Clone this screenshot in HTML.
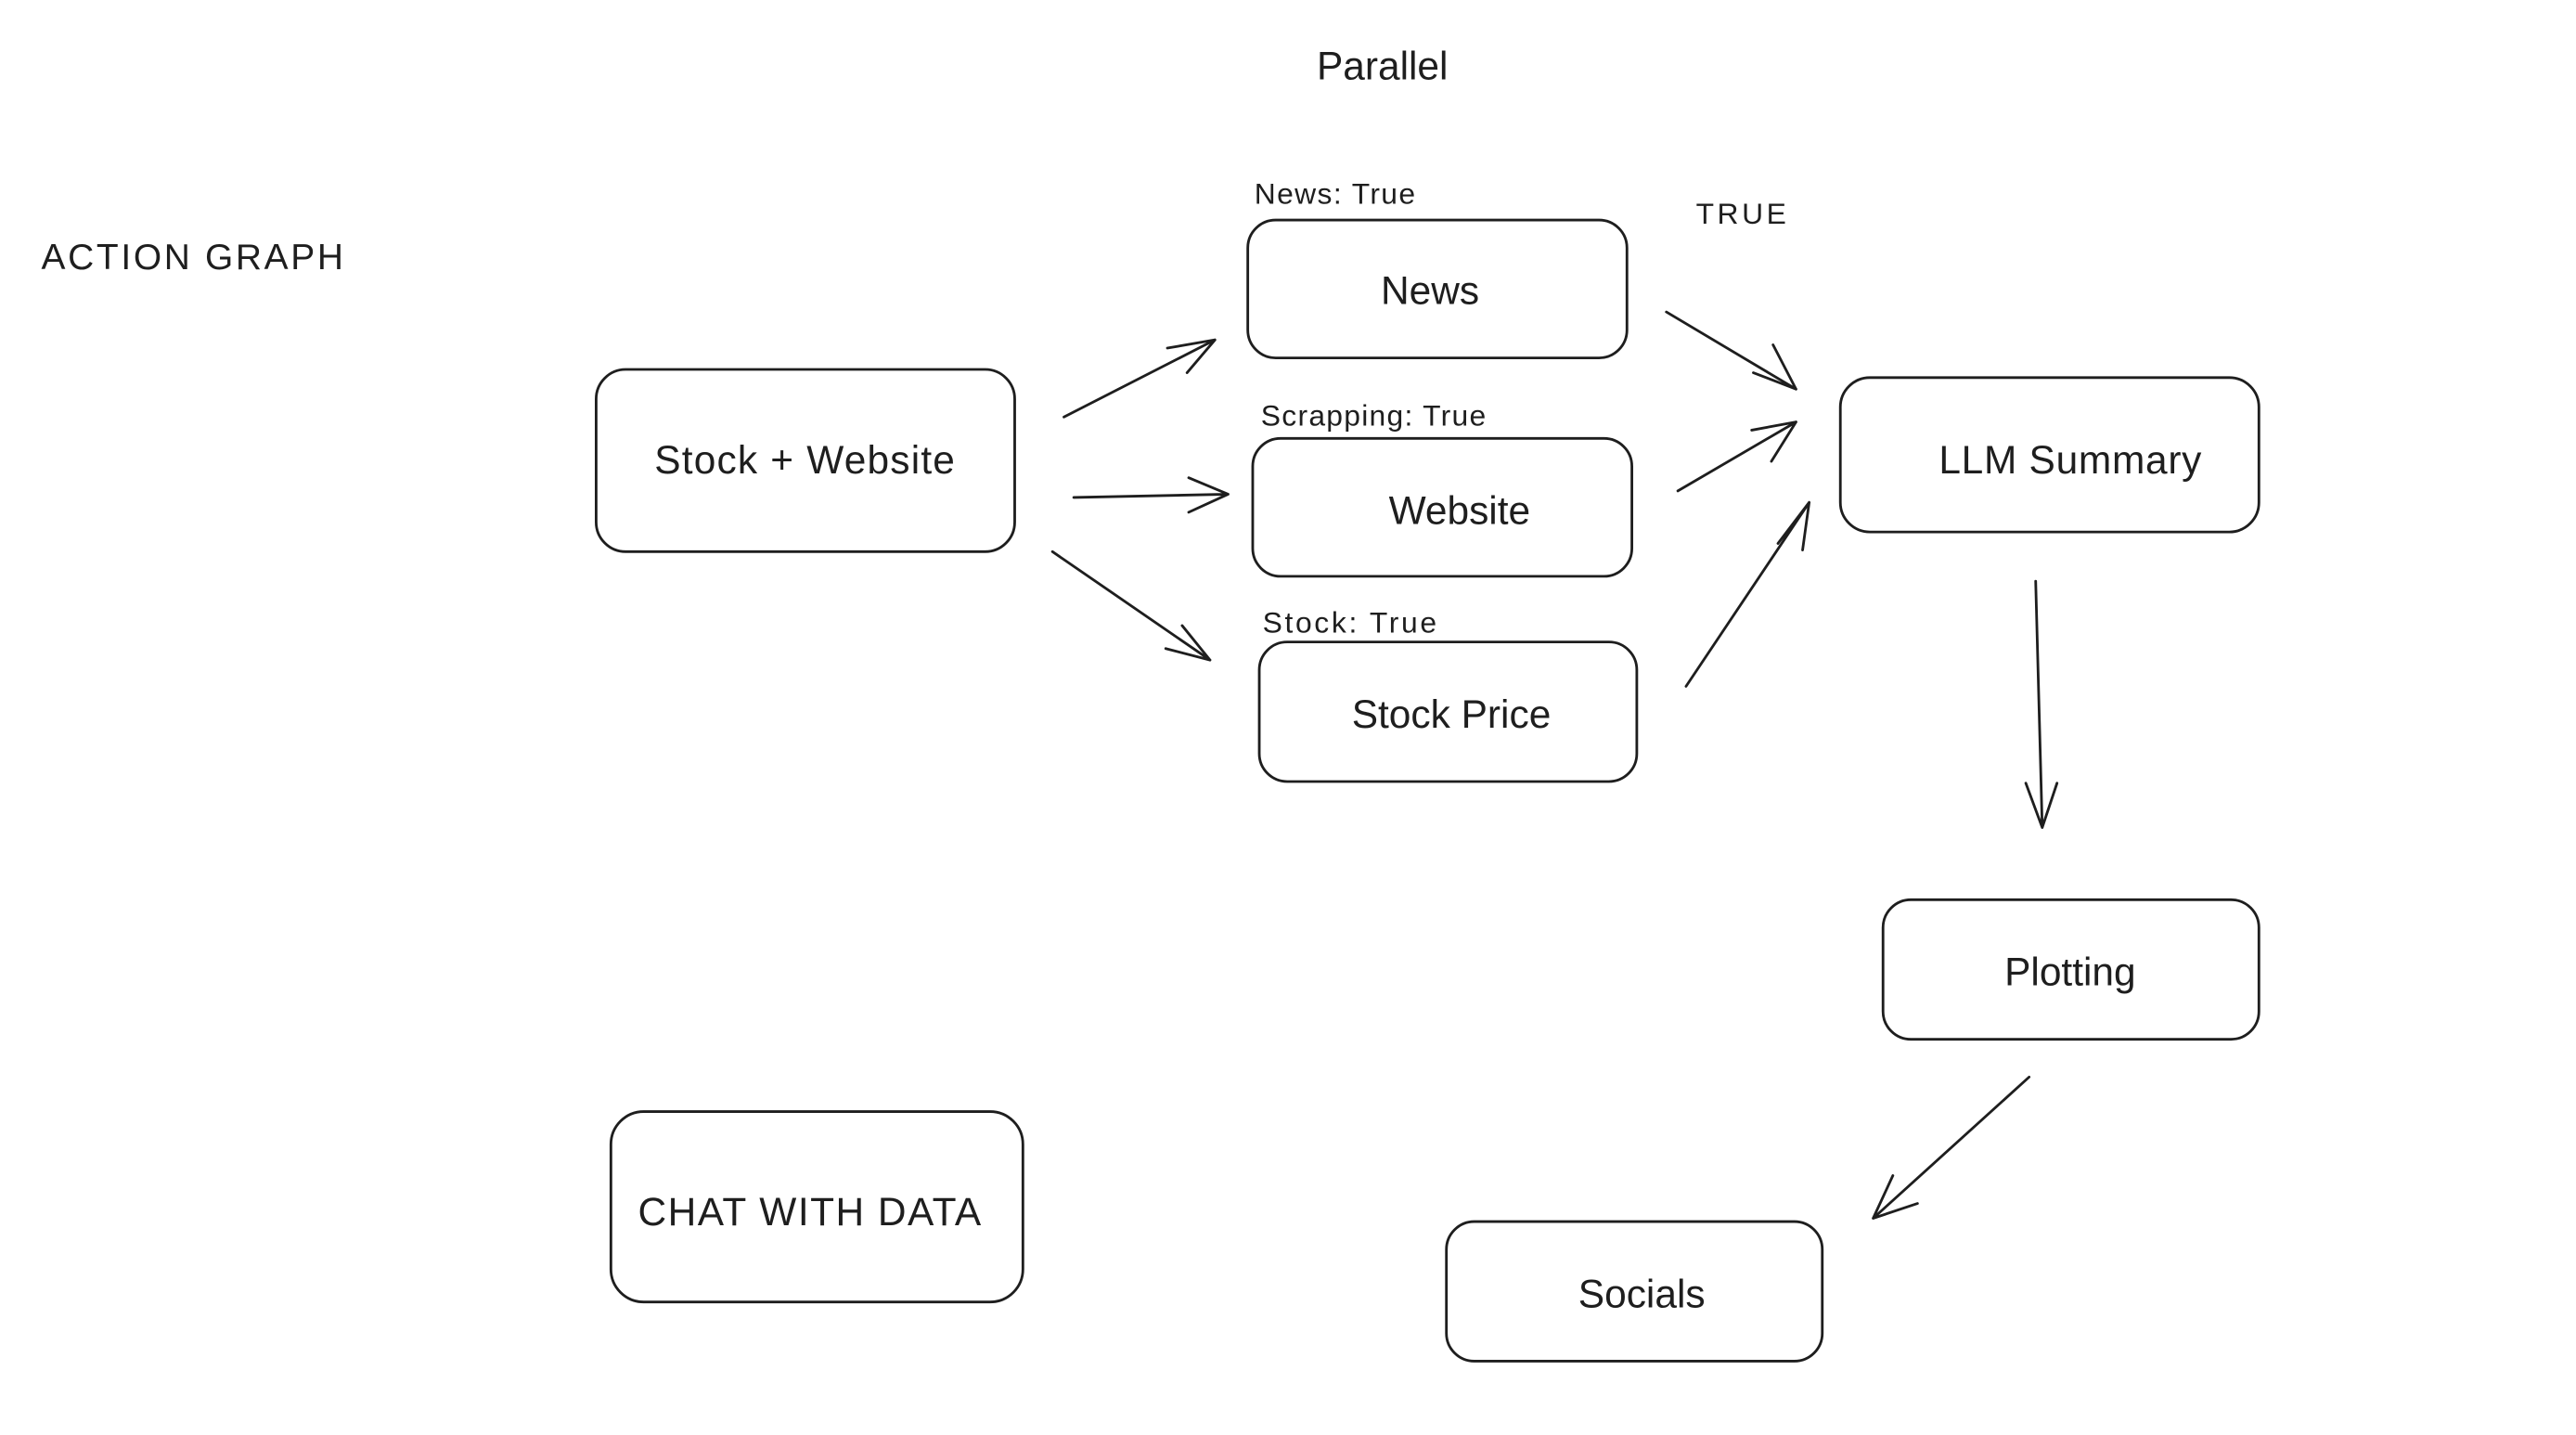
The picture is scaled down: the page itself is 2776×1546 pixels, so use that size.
<!DOCTYPE html>
<html><head><meta charset="utf-8"><style>
html,body{margin:0;padding:0;background:#fff;}
svg{display:block}
text{font-family:"Liberation Sans","DejaVu Sans",sans-serif;fill:#1e1e1e}
</style></head><body>
<svg width="2776" height="1546" viewBox="0 0 1569 874" xmlns="http://www.w3.org/2000/svg">
<g fill="none" stroke="#1e1e1e" stroke-width="1.6" stroke-linecap="round" stroke-linejoin="round">
<rect x="363" y="225" width="255" height="111" rx="18"/>
<rect x="760" y="134" width="231" height="84" rx="17"/>
<rect x="763" y="267" width="231" height="84" rx="17"/>
<rect x="767" y="391" width="230" height="85" rx="17"/>
<rect x="1121" y="230" width="255" height="94" rx="18"/>
<rect x="1147" y="548" width="229" height="85" rx="17"/>
<rect x="881" y="744" width="229" height="85" rx="17"/>
<rect x="372" y="677" width="251" height="116" rx="20"/>
<path d="M648 254 L740 207 M740 207 L711 212 M740 207 L723 227"/>
<path d="M654 303 L748 301 M748 301 L724 291 M748 301 L724 312"/>
<path d="M641 336 L737 402 M737 402 L720 381 M737 402 L710 395"/>
<path d="M1015 190 L1094 237 M1094 237 L1080 210 M1094 237 L1068 227"/>
<path d="M1022 299 L1094 257 M1094 257 L1067 262 M1094 257 L1079 281"/>
<path d="M1027 418 L1102 306 M1102 306 L1083 331 M1102 306 L1098 335"/>
<path d="M1240 354 L1244 504 M1244 504 L1234 477 M1244 504 L1253 477"/>
<path d="M1236 656 L1141 742 M1141 742 L1168 733 M1141 742 L1153 716"/>
</g>
<g font-size="24" text-anchor="middle" dominant-baseline="central">
<text x="490" y="280" textLength="183">Stock + Website</text>
<text x="871" y="177">News</text>
<text x="889" y="311">Website</text>
<text x="884" y="435">Stock Price</text>
<text x="1261" y="280" textLength="160">LLM Summary</text>
<text x="1261" y="592">Plotting</text>
<text x="1000" y="788">Socials</text>
<text x="493" y="738" textLength="209">CHAT WITH DATA</text>
<text x="842" y="40">Parallel</text>
</g>
<g font-size="18" dominant-baseline="central">
<text x="25" y="157" font-size="22" textLength="184">ACTION GRAPH</text>
<text x="764" y="118" textLength="98">News: True</text>
<text x="768" y="253" textLength="137">Scrapping: True</text>
<text x="769" y="379" textLength="106">Stock: True</text>
<text x="1033" y="130" textLength="55">TRUE</text>
</g>
</svg>
</body></html>
